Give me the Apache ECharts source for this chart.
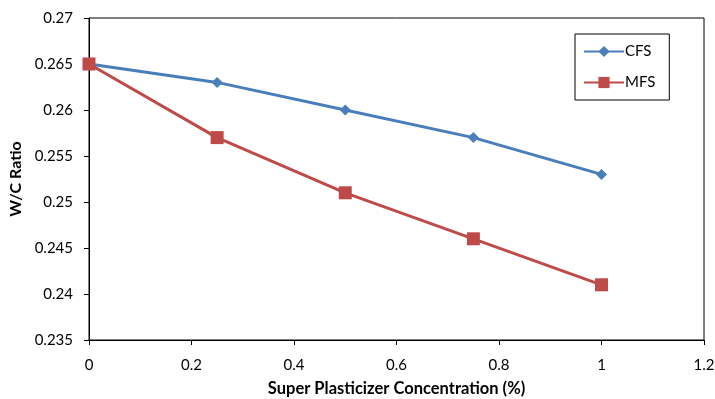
<!DOCTYPE html>
<html>
<head>
<meta charset="utf-8">
<script src="https://cdn.jsdelivr.net/npm/echarts@6/dist/echarts.min.js"></script>
<style>html,body{margin:0;padding:0;background:#fff;}#c{width:715px;height:399px;}</style>
</head>
<body>
<div id="c"></div>
<script>
const xValues = [0, 0.25, 0.5, 0.75, 1];
const cfsValues = [0.265, 0.263, 0.260, 0.257, 0.253];
const mfsValues = [0.265, 0.257, 0.251, 0.246, 0.241];
const xTicks = [0, 0.2, 0.4, 0.6, 0.8, 1, 1.2];
const yTicks = [0.235, 0.24, 0.245, 0.25, 0.255, 0.26, 0.265, 0.27];
const seriesNames = ['CFS', 'MFS'];
const FONT = 'Lato, "Open Sans", sans-serif';

const chart = echarts.init(document.getElementById('c'), null, {renderer: 'canvas'});
chart.setOption({
  animation: false,
  backgroundColor: '#fff',
  grid: {left: 89, right: 11, top: 18, bottom: 59, show: true, borderColor: '#000', borderWidth: 1,
         containLabel: false, outerBoundsMode: 'none'},
  legend: {
    orient: 'vertical', left: 575, top: 34,
    data: seriesNames,
    borderColor: '#000', borderWidth: 1,
    padding: [10, 14, 10, 8],
    itemWidth: 40, itemHeight: 14, itemGap: 16,
    textStyle: {fontFamily: FONT, fontSize: 15, color: '#000', padding: [0,0,0,-4]}
  },
  xAxis: {
    type: 'value', min: 0, max: 1.2, interval: 0.2,
    name: 'Super Plasticizer Concentration (%)', nameLocation: 'middle', nameGap: 40,
    nameTextStyle: {fontFamily: FONT, fontSize: 16.5, fontWeight: 'bold', color: '#000'},
    axisLine: {show: true, onZero: false, lineStyle: {color: '#000', width: 1}},
    axisTick: {show: true, length: 5, lineStyle: {color: '#000'}},
    axisLabel: {fontFamily: FONT, fontSize: 15, color: '#000', margin: 18,
      formatter: v => { const t = xTicks.find(k => Math.abs(k - v) < 1e-9); return t === undefined ? '' : String(t); }},
    splitLine: {show: false}
  },
  yAxis: {
    type: 'value', min: 0.235, max: 0.27, interval: 0.005,
    name: 'W/C Ratio', nameLocation: 'middle', nameGap: 62,
    nameTextStyle: {fontFamily: FONT, fontSize: 16, fontWeight: 'bold', color: '#000'},
    axisLine: {show: true, lineStyle: {color: '#000', width: 1}},
    axisTick: {show: true, length: 5, lineStyle: {color: '#000'}},
    axisLabel: {fontFamily: FONT, fontSize: 15, color: '#000', margin: 16,
      formatter: v => { const t = yTicks.find(k => Math.abs(k - v) < 1e-9); return t === undefined ? '' : String(t); }},
    splitLine: {show: false}
  },
  series: [
    {
      name: seriesNames[0], type: 'line',
      data: xValues.map((x, i) => [x, cfsValues[i]]),
      symbol: 'diamond', symbolSize: 11,
      itemStyle: {color: '#4a7ebb'},
      lineStyle: {color: '#4a7ebb', width: 3},
      z: 3
    },
    {
      name: seriesNames[1], type: 'line',
      data: xValues.map((x, i) => [x, mfsValues[i]]),
      symbol: 'rect', symbolSize: 13,
      itemStyle: {color: '#be4b48'},
      lineStyle: {color: '#be4b48', width: 3},
      z: 4
    }
  ]
});
</script>
</body>
</html>
